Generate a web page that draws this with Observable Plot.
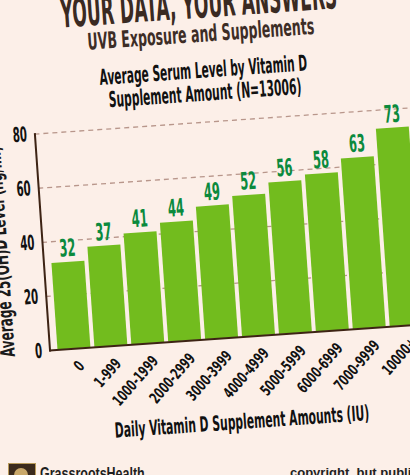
<!DOCTYPE html>
<html>
<head>
<meta charset="utf-8">
<script src="https://cdn.jsdelivr.net/npm/d3@7"></script>
<script src="https://cdn.jsdelivr.net/npm/@observablehq/plot@0.6"></script>
<style>
  html, body { margin:0; padding:0; width:410px; height:475px; overflow:hidden; background:#fcefe8; }
  #page { position:absolute; left:0; top:0; width:410px; height:475px; transform:rotate(-4deg); transform-origin:205px 237px; }
  .t { position:absolute; width:430px; height:1em; white-space:nowrap; line-height:1;
       font-family:'DejaVu Sans',sans-serif; font-weight:bold; }
  .t span { position:absolute; left:50%; top:0; white-space:nowrap; transform-origin:50% 50%; }
  #chart { position:absolute; left:0; top:100px; width:430px; }
  #chart svg { max-width:none !important; }
  #ylab { position:absolute; left:-12px; top:343px; height:24px; line-height:24px;
          transform-origin:0 0; white-space:nowrap; font-size:20px; color:#1a1a1a;
          font-family:'DejaVu Sans',sans-serif; font-weight:bold; }
  #footer { position:absolute; left:0; top:456px; width:410px; height:20px; }
  #footer .f { position:absolute; line-height:1; white-space:nowrap; font-family:'Liberation Sans',sans-serif; font-weight:bold; }
</style>
</head>
<body>
<div id="page">
  <div class="t" style="left:0;top:-16px;font-size:40px;color:#3a2a22;" data-w="277"><span>YOUR DATA, YOUR ANSWERS</span></div>
  <div class="t" style="left:0;top:23px;font-size:23px;color:#3d2d26;" data-w="227"><span>UVB Exposure and Supplements</span></div>
  <div class="t" style="left:0;top:59.5px;font-size:22px;color:#111;" data-w="208"><span>Average Serum Level by Vitamin D</span></div>
  <div class="t" style="left:0;top:82.5px;font-size:22px;color:#111;" data-w="193"><span>Supplement Amount (N=13006)</span></div>
  <div id="chart"></div>
  <div id="ylab">Average 25(OH)D Level (ng/ml)</div>
  <div class="t" style="left:14px;top:414px;font-size:21px;color:#111;" data-w="255"><span>Daily Vitamin D Supplement Amounts (IU)</span></div>
</div>
<div id="footer">
  <div style="position:absolute;left:8px;top:7px;width:26px;height:20px;background:#3b2a1c;border:1px solid #b89a5a;"></div>
  <div style="position:absolute;left:14px;top:12px;width:14px;height:14px;border-radius:50%;background:#c9a86a;"></div>
  <div class="f" id="brand" style="left:40px;top:9px;font-size:17px;color:#1e1e1e;transform-origin:0 0;">GrassrootsHealth</div>
  <div class="f" style="left:290px;top:10px;font-size:13px;color:#222;">copyright, but publish</div>
</div>
<script>
const categories = ["0","1-999","1000-1999","2000-2999","3000-3999","4000-4999","5000-5999","6000-6999","7000-9999","10000+"];
const values = [32,37,41,44,49,52,56,58,63,73];
const yTicks = [0,20,40,60,80];

const data = categories.map((c,i) => ({cat:c, val:values[i]}));
const FONT = "'DejaVu Sans',sans-serif";

const chart = Plot.plot({
  width: 423,
  height: 309,
  marginLeft: 42,
  marginRight: 0,
  marginTop: 22,
  marginBottom: 70,
  style: {background:"transparent", fontFamily: FONT, overflow:"visible", maxWidth:"none"},
  x: {domain: categories, padding: 0.12},
  y: {domain: [0,80]},
  marks: [
    Plot.ruleY(yTicks.filter(d => d > 0), {stroke:"#b8968b", strokeDasharray:"5,4", strokeWidth:1.3}),
    Plot.barY(data, {x:"cat", y:"val", fill:"#72bc1e"}),
    Plot.text(data, {x:"cat", y:"val", text: d => String(d.val), dy:-6, lineAnchor:"bottom", fill:"#0b8a3d", fontSize:24, fontWeight:"bold"}),
    Plot.ruleY([0], {stroke:"#3d2314", strokeWidth:2}),
    Plot.frame({anchor:"left", stroke:"#3d2314", strokeWidth:2}),
    Plot.axisY({ticks: yTicks, tickSize:0, tickPadding:8, fontSize:20.5, fontWeight:"bold", fill:"#111", label:null}),
    Plot.axisX({tickRotate:-45, tickSize:0, tickPadding:15, dx:6, fontSize:15.5, fontWeight:"bold", fill:"#111", label:null})
  ]
});
document.getElementById("chart").appendChild(chart);

// condensed look: compress glyphs horizontally
function condense(sel, f) {
  chart.querySelectorAll(sel).forEach(el => {
    const len = el.getComputedTextLength();
    if (len > 0) { el.setAttribute("textLength", len * f); el.setAttribute("lengthAdjust", "spacingAndGlyphs"); }
  });
}
condense('g[aria-label="text"] text', 0.48);
condense('g[aria-label="y-axis tick label"] text', 0.5);
condense('g[aria-label="x-axis tick label"] text', 0.65);

document.querySelectorAll(".t").forEach(div => {
  const span = div.querySelector("span");
  const w = span.offsetWidth;
  span.style.transform = `translateX(-50%) scaleX(${(+div.dataset.w) / w})`;
});
document.getElementById("ylab").style.transform = "rotate(-90deg) scaleX(0.6)";
const brand = document.getElementById("brand");
brand.style.transform = `scaleX(${105 / brand.offsetWidth})`;
</script>
</body>
</html>
